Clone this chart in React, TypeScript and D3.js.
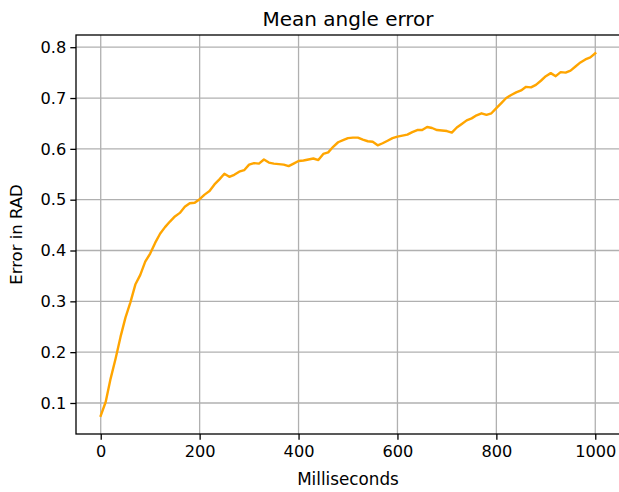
import React, { useRef, useEffect } from 'react';
import * as d3 from 'd3';

// mean angle error sampled every 10 ms
const timesMs = d3.range(0, 1001, 10);
const errorRad = [
  0.075, 0.102, 0.148, 0.187, 0.230, 0.268, 0.298, 0.333, 0.352, 0.378,
  0.394, 0.415, 0.433, 0.446, 0.457, 0.467, 0.474, 0.486, 0.493, 0.494,
  0.501, 0.510, 0.517, 0.530, 0.540, 0.551, 0.545, 0.549, 0.555, 0.558,
  0.569, 0.572, 0.571, 0.579, 0.573, 0.571, 0.570, 0.569, 0.566, 0.571,
  0.576, 0.577, 0.579, 0.581, 0.578, 0.590, 0.593, 0.604, 0.613, 0.617,
  0.621, 0.622, 0.622, 0.618, 0.615, 0.614, 0.607, 0.611, 0.616, 0.621,
  0.624, 0.626, 0.628, 0.633, 0.637, 0.637, 0.643, 0.641, 0.637, 0.636,
  0.635, 0.632, 0.642, 0.649, 0.656, 0.660, 0.666, 0.670, 0.667, 0.670,
  0.680, 0.690, 0.700, 0.706, 0.711, 0.715, 0.722, 0.721, 0.726, 0.734,
  0.743, 0.749, 0.743, 0.751, 0.750, 0.754, 0.762, 0.770, 0.776, 0.780,
  0.788,
];
const xTicks = [0, 200, 400, 600, 800, 1000];
const yTicks = [0.1, 0.2, 0.3, 0.4, 0.5, 0.6, 0.7, 0.8];

const width = 619;
const height = 492;

const App = () => {
  const ref = useRef<SVGSVGElement>(null);

  useEffect(() => {
    const margin = { top: 35, right: -1, bottom: 58, left: 76 };
    const font = 'DejaVu Sans, sans-serif';

    const x = d3.scaleLinear()
      .domain([-50, 1050])
      .range([margin.left, width - margin.right]);

    const y = d3.scaleLinear()
      .domain([0.039, 0.824])
      .range([height - margin.bottom, margin.top]);

    const svg = d3.select(ref.current);
    svg.selectAll('*').remove(); // Clear previous content

    // grid
    svg.append('g')
      .selectAll('line')
      .data(xTicks)
      .join('line')
      .attr('x1', d => x(d)).attr('x2', d => x(d))
      .attr('y1', margin.top).attr('y2', height - margin.bottom)
      .attr('stroke', '#b0b0b0').attr('stroke-width', 1.3);

    svg.append('g')
      .selectAll('line')
      .data(yTicks)
      .join('line')
      .attr('x1', margin.left).attr('x2', width - margin.right)
      .attr('y1', d => y(d)).attr('y2', d => y(d))
      .attr('stroke', '#b0b0b0').attr('stroke-width', 1.3);

    const line = d3.line<number>()
      .x((_, i) => x(timesMs[i]))
      .y(d => y(d));

    svg.append('path')
      .datum(errorRad)
      .attr('d', line)
      .attr('fill', 'none')
      .attr('stroke', 'orange')
      .attr('stroke-width', 2.4)
      .attr('stroke-linejoin', 'round')
      .attr('stroke-linecap', 'square');

    // axes
    const xAxis = svg.append('g')
      .attr('transform', `translate(0,${height - margin.bottom})`)
      .call(d3.axisBottom(x).tickValues(xTicks).tickSize(5.7).tickPadding(5.5).tickFormat(d3.format('d')));
    const yAxis = svg.append('g')
      .attr('transform', `translate(${margin.left},0)`)
      .call(d3.axisLeft(y).tickValues(yTicks).tickSize(5.7).tickPadding(4).tickFormat(d3.format('.1f')));

    [xAxis, yAxis].forEach(g => {
      g.select('.domain').remove();
      g.attr('font-size', '16.2px').attr('font-family', font);
      g.selectAll('text').attr('fill', '#000');
      g.selectAll('line').attr('stroke', '#000').attr('stroke-width', 1.3);
    });

    // spines
    svg.append('rect')
      .attr('x', margin.left).attr('y', margin.top)
      .attr('width', width - margin.right - margin.left)
      .attr('height', height - margin.bottom - margin.top)
      .attr('fill', 'none').attr('stroke', '#000').attr('stroke-width', 1.3);

    svg.append('text')
      .attr('x', (margin.left + width - margin.right) / 2)
      .attr('y', 26)
      .attr('text-anchor', 'middle')
      .attr('font-family', font).attr('font-size', '20px')
      .text('Mean angle error');

    svg.append('text')
      .attr('x', (margin.left + width - margin.right) / 2)
      .attr('y', 485)
      .attr('text-anchor', 'middle')
      .attr('font-family', font).attr('font-size', '16.8px')
      .text('Milliseconds');

    svg.append('text')
      .attr('transform', `translate(22,${(margin.top + height - margin.bottom) / 2}) rotate(-90)`)
      .attr('text-anchor', 'middle')
      .attr('font-family', font).attr('font-size', '16.5px')
      .text('Error in RAD');
  }, []);

  return (
    <svg
      ref={ref}
      width={width}
      height={height}
      style={{ position: 'absolute', left: 0, top: 0, background: '#fff' }}
    />
  );
};

export default App;
